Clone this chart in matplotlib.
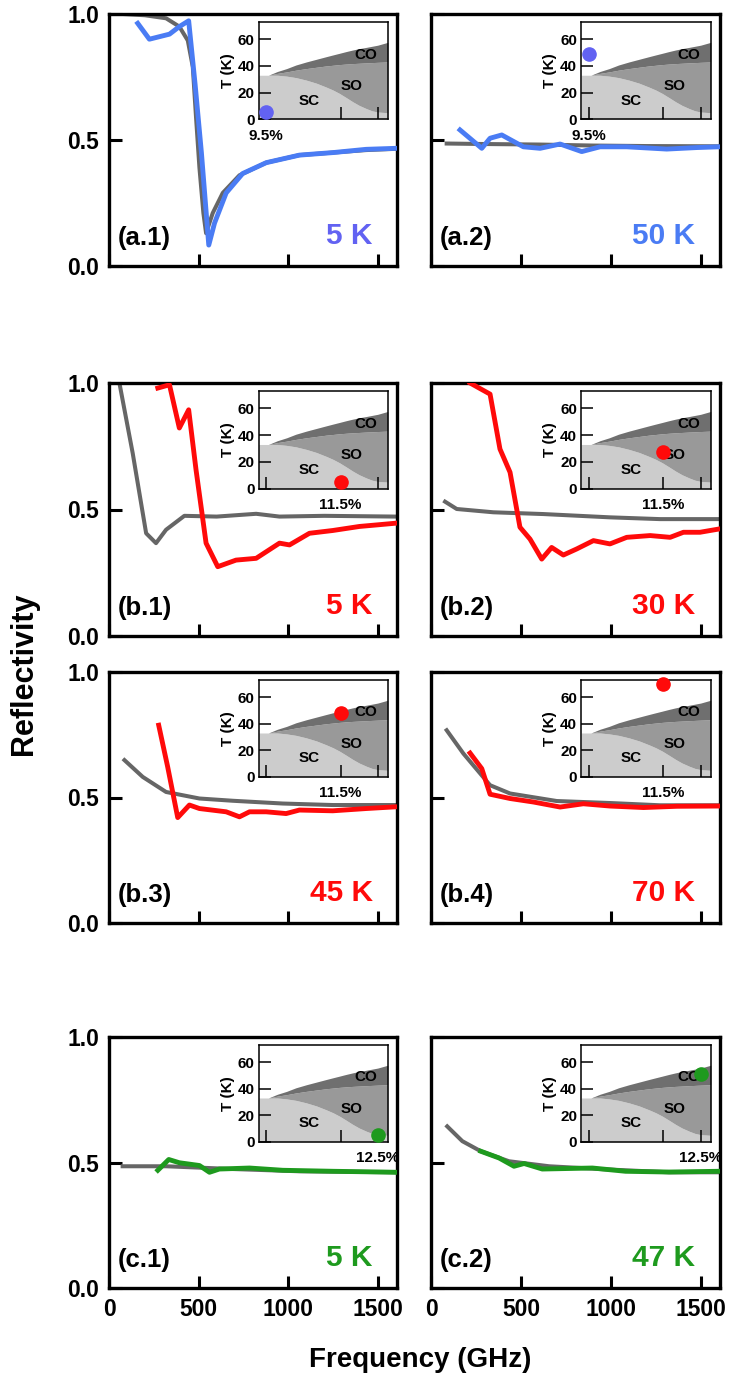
import numpy as np
import matplotlib.pyplot as plt

plt.rcParams['font.family'] = ['Liberation Sans', 'DejaVu Sans']
plt.rcParams['font.weight'] = 'bold'

# ---- data ----
panel_tags = ['(a.1)', '(a.2)', '(b.1)', '(b.2)', '(b.3)', '(b.4)', '(c.1)', '(c.2)']
temp_labels = ['5 K', '50 K', '5 K', '30 K', '45 K', '70 K', '5 K', '47 K']
dopings = [9.5, 9.5, 11.5, 11.5, 11.5, 11.5, 12.5, 12.5]
doping_labels = ['9.5%', '9.5%', '11.5%', '11.5%', '11.5%', '11.5%', '12.5%', '12.5%']
marker_T = [5, 49, 5, 27, 48, 70, 5, 51]

a1_gray_f = [76, 200, 318, 392, 439, 467, 485, 504, 526, 541, 578, 634, 727, 876, 1061, 1247, 1433, 1600]
a1_gray_r = [1.0, 0.995, 0.983, 0.95, 0.895, 0.79, 0.59, 0.39, 0.21, 0.13, 0.21, 0.29, 0.36, 0.41, 0.44, 0.45, 0.46, 0.465]
a1_f = [160, 225, 337, 392, 444, 480, 515, 556, 588, 653, 745, 876, 1061, 1247, 1433, 1600]
a1_r = [0.963, 0.90, 0.92, 0.95, 0.973, 0.72, 0.45, 0.083, 0.17, 0.29, 0.367, 0.41, 0.44, 0.45, 0.463, 0.467]

a2_gray_f = [87, 300, 600, 900, 1200, 1600]
a2_gray_r = [0.486, 0.484, 0.482, 0.478, 0.476, 0.475]
a2_f = [161, 282, 328, 393, 513, 606, 717, 837, 939, 1087, 1309, 1476, 1600]
a2_r = [0.54, 0.467, 0.507, 0.52, 0.473, 0.467, 0.484, 0.454, 0.473, 0.473, 0.464, 0.47, 0.473]

b1_gray_f = [58, 132, 207, 262, 318, 420, 600, 820, 950, 1200, 1600]
b1_gray_r = [1.0, 0.723, 0.406, 0.367, 0.42, 0.475, 0.472, 0.483, 0.472, 0.475, 0.472]
b1_f = [272, 337, 392, 444, 485, 541, 606, 708, 820, 950, 1006, 1117, 1247, 1396, 1507, 1600]
b1_r = [0.98, 0.993, 0.822, 0.894, 0.657, 0.367, 0.274, 0.30, 0.307, 0.367, 0.36, 0.406, 0.417, 0.433, 0.44, 0.446]

b2_gray_f = [78, 143, 346, 624, 994, 1272, 1600]
b2_gray_r = [0.531, 0.502, 0.489, 0.482, 0.469, 0.462, 0.462]
b2_f = [217, 328, 383, 439, 494, 550, 615, 670, 735, 809, 902, 994, 1087, 1217, 1328, 1402, 1494, 1600]
b2_r = [1.0, 0.956, 0.739, 0.647, 0.43, 0.383, 0.304, 0.35, 0.32, 0.344, 0.377, 0.364, 0.39, 0.397, 0.39, 0.41, 0.41, 0.423]

b3_gray_f = [86, 188, 318, 504, 690, 968, 1247, 1600]
b3_gray_r = [0.649, 0.582, 0.522, 0.496, 0.487, 0.476, 0.47, 0.47]
b3_f = [277, 327, 383, 448, 504, 653, 727, 783, 876, 987, 1061, 1247, 1433, 1600]
b3_r = [0.788, 0.622, 0.42, 0.47, 0.456, 0.443, 0.423, 0.443, 0.443, 0.436, 0.45, 0.447, 0.456, 0.463]

b4_gray_f = [87, 180, 328, 439, 698, 994, 1272, 1600]
b4_gray_r = [0.768, 0.675, 0.549, 0.516, 0.486, 0.478, 0.469, 0.469]
b4_f = [217, 282, 328, 439, 569, 717, 846, 994, 1180, 1365, 1600]
b4_r = [0.677, 0.615, 0.513, 0.496, 0.482, 0.462, 0.475, 0.466, 0.46, 0.465, 0.466]

c1_gray_f = [76, 318, 690, 1061, 1600]
c1_gray_r = [0.485, 0.485, 0.474, 0.465, 0.461]
c1_f = [272, 333, 392, 504, 560, 615, 783, 968, 1247, 1526, 1600]
c1_r = [0.469, 0.512, 0.499, 0.488, 0.461, 0.474, 0.478, 0.469, 0.465, 0.462, 0.461]

c2_gray_f = [90, 174, 276, 433, 656, 989, 1322, 1600]
c2_gray_r = [0.644, 0.585, 0.545, 0.505, 0.485, 0.472, 0.461, 0.461]
c2_f = [276, 378, 461, 517, 618, 896, 1081, 1322, 1600]
c2_r = [0.545, 0.518, 0.485, 0.496, 0.474, 0.478, 0.465, 0.462, 0.465]

# phase diagram (inset)
pd_x = [9.30, 9.56, 9.8, 10.05, 10.3, 10.58, 10.85, 11.12, 11.3, 11.47, 11.65, 11.83, 12.0, 12.2, 12.35, 12.5, 12.77]
sc_top = [33, 33, 33, 32.3, 31.2, 29.3, 27, 24, 21.8, 19.3, 16.2, 13, 10.3, 7.8, 6.2, 5.3, 4.8]
so_top = [33, 33, 34.4, 35.5, 36.8, 38, 39, 40, 40.5, 41, 41.4, 41.75, 42, 42.3, 42.5, 42.7, 43]
co_top = [33, 33, 35.8, 38, 40.7, 43, 45, 47, 48.3, 49.5, 50.8, 52, 53, 54, 54.8, 55.6, 57.75]

curves = [(a1_gray_f, a1_gray_r, a1_f, a1_r), (a2_gray_f, a2_gray_r, a2_f, a2_r),
          (b1_gray_f, b1_gray_r, b1_f, b1_r), (b2_gray_f, b2_gray_r, b2_f, b2_r),
          (b3_gray_f, b3_gray_r, b3_f, b3_r), (b4_gray_f, b4_gray_r, b4_f, b4_r),
          (c1_gray_f, c1_gray_r, c1_f, c1_r), (c2_gray_f, c2_gray_r, c2_f, c2_r)]

blue = '#4a7cf4'
violet = '#6262f2'
red = '#ff0a0a'
green = '#1e9a1e'
line_cols = [blue, blue, red, red, red, red, green, green]
text_cols = [violet, blue, red, red, red, red, green, green]
dot_cols = [violet, violet, red, red, red, red, green, green]

fig = plt.figure(figsize=(7.36, 13.8), dpi=100)

W, H = 736.0, 1380.0
col_x = [(109, 288), (431, 289)]
row_y = [(14, 266), (383, 636), (672, 923), (1037, 1288)]
rows_of = [0, 0, 1, 1, 2, 2, 3, 3]

for i in range(8):
    cx, cw = col_x[i % 2]
    ry0, ry1 = row_y[rows_of[i]]
    ax = fig.add_axes([cx / W, 1 - ry1 / H, cw / W, (ry1 - ry0) / H])
    gf, gr, f, r = curves[i]
    ax.plot(gf, gr, color='#666666', lw=2.9, zorder=2, solid_joinstyle='round')
    ax.plot(f, r, color=line_cols[i], lw=3.5, zorder=3, solid_joinstyle='round')
    ax.set_xlim(0, 1605)
    ax.set_ylim(0, 1.0)
    ax.set_xticks([0, 500, 1000, 1500])
    ax.set_yticks([0.0, 0.5, 1.0])
    ax.tick_params(direction='in', length=9, width=2.2, labelsize=16.5, pad=7)
    for s in ax.spines.values():
        s.set_linewidth(2.4)
    if i % 2 == 1:
        ax.set_yticklabels([])
    else:
        ax.set_yticklabels(['0.0', '0.5', '1.0'])
    if i < 6:
        ax.set_xticklabels([])
    ax.text(0.03, 0.11, panel_tags[i], transform=ax.transAxes, fontsize=18.5,
            fontweight='bold', va='center', ha='left')
    ax.text(0.915, 0.12, temp_labels[i], transform=ax.transAxes, fontsize=21.5,
            fontweight='bold', va='center', ha='right', color=text_cols[i])

    # inset phase diagram
    ins = ax.inset_axes([0.52, 0.583, 0.448, 0.385])
    ins.fill_between(pd_x, 0, sc_top, color='#cccccc', lw=0)
    ins.fill_between(pd_x, sc_top, so_top, color='#999999', lw=0)
    ins.fill_between(pd_x, so_top, co_top, color='#6f6f6f', lw=0)
    ins.set_xlim(9.3, 12.77)
    ins.set_ylim(0, 73)
    ins.set_yticks([0, 20, 40, 60])
    ins.set_xticks([9.5, 11.5, 12.5])
    ins.set_xticklabels([doping_labels[i] if d == dopings[i] else '' for d in [9.5, 11.5, 12.5]])
    ins.tick_params(direction='in', length=8.5, width=1.1, labelsize=11, pad=3)
    ins.tick_params(axis='x', pad=7)
    ins.set_ylabel('T (K)', fontsize=11, fontweight='bold', labelpad=2)
    for s in ins.spines.values():
        s.set_linewidth(1.1)
    ins.text(12.17, 48.5, 'CO', fontsize=11, fontweight='bold', ha='center', va='center')
    ins.text(11.81, 24.75, 'SO', fontsize=11, fontweight='bold', ha='center', va='center')
    ins.text(10.65, 13.75, 'SC', fontsize=11, fontweight='bold', ha='center', va='center')
    ins.plot([dopings[i]], [marker_T[i]], 'o', ms=9.5, color=dot_cols[i], clip_on=False, zorder=5)

fig.text(24.5 / W, 1 - 674 / H, 'Reflectivity', rotation=90, fontsize=22,
         fontweight='bold', ha='center', va='center')
fig.text(420 / W, 1 - 1360 / H, 'Frequency (GHz)', fontsize=20,
         fontweight='bold', ha='center', va='center')

fig.savefig('out.png', dpi=100)
